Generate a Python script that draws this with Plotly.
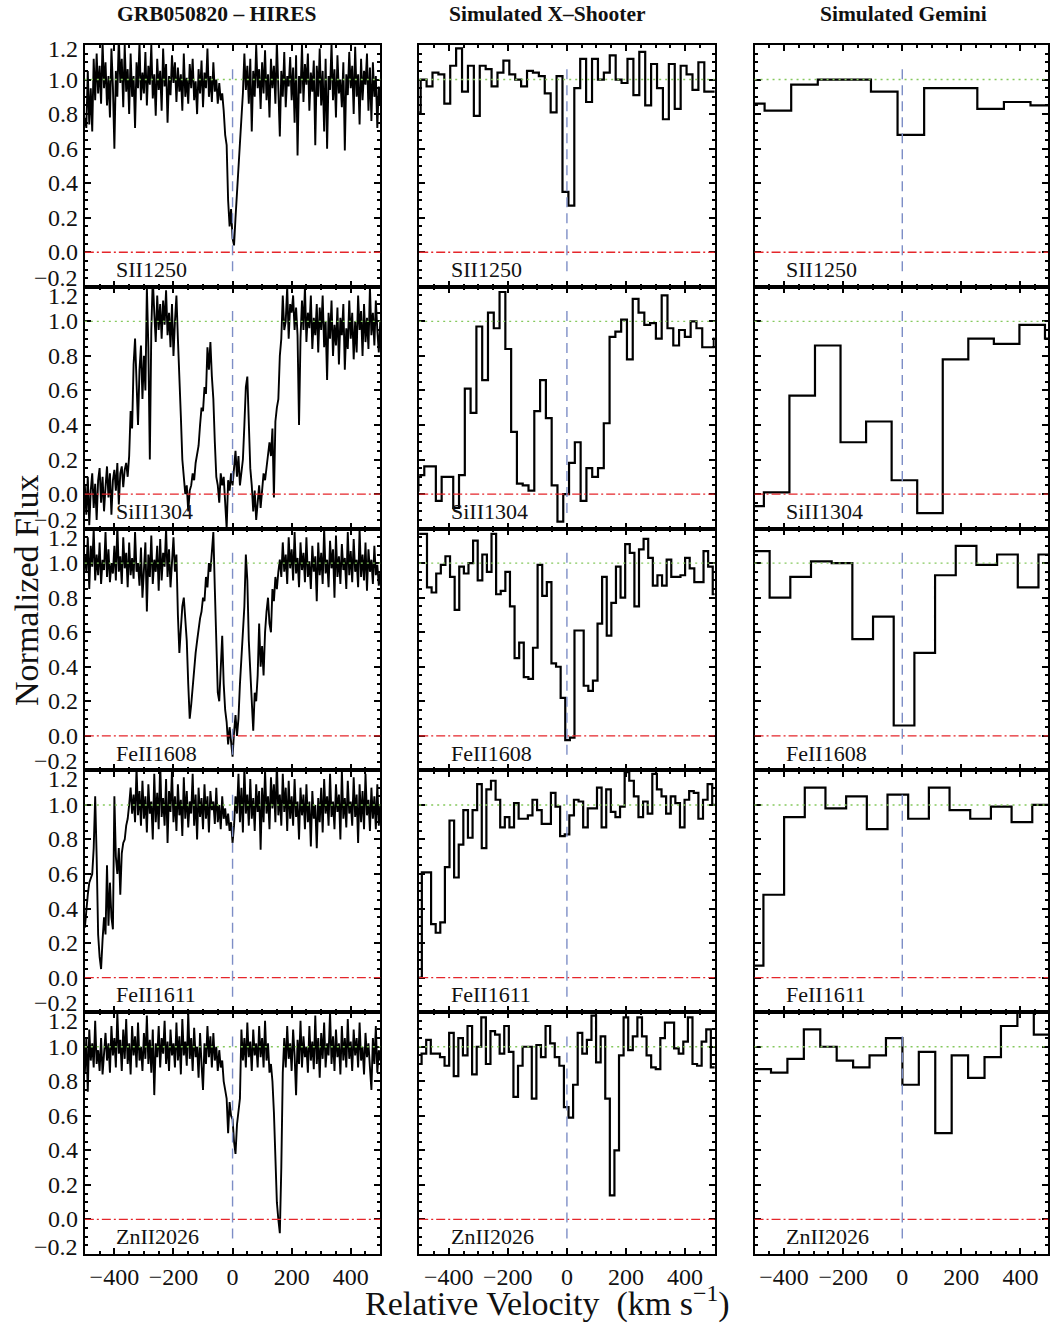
import numpy as np
import plotly.graph_objects as go

FONT = "Liberation Serif"
COLUMN_TITLES = ["GRB050820 \u2013 HIRES", "Simulated X\u2013Shooter", "Simulated Gemini"]
IONS = ["SII1250", "SiII1304", "FeII1608", "FeII1611", "ZnII2026"]
Y_TICKS = [-0.2, 0.0, 0.2, 0.4, 0.6, 0.8, 1.0, 1.2]
X_LABEL = "Relative Velocity\u00a0\u00a0(km s<sup>\u22121</sup>)"
Y_LABEL = "Normalized Flux"

# ---------------- HIRES (5 km/s sampling, starting at -500 km/s) ----------------
HIRES_V0 = -500.0
HIRES_DV = 5.0
HIRES_SII1250 = [
    0.78, 0.72, 1.05, 0.74, 0.95, 0.70, 1.12, 0.88, 1.15, 0.92, 1.08, 0.86, 1.22, 0.95, 1.10, 0.85, 1.02, 0.78, 1.18, 0.96,
    0.60, 1.05, 0.90, 1.25, 0.98, 1.12, 0.84, 1.20, 0.93, 1.06, 0.80, 1.15, 0.90, 1.02, 0.72, 1.10, 0.95, 1.22, 0.88, 1.04,
    0.92, 1.16, 0.85, 1.08, 0.97, 1.20, 0.89, 1.03, 0.79, 1.12, 0.94, 1.05, 0.82, 1.18, 0.96, 1.09, 0.75, 1.02, 0.91, 1.14,
    0.98, 1.10, 0.87, 1.07, 0.93, 1.03, 0.82, 1.15, 0.90, 1.01, 0.86, 1.09, 0.95, 1.12, 0.88, 0.99, 0.80, 1.06, 0.92, 1.11,
    0.84, 1.04, 0.95, 1.18, 0.90, 1.02, 0.87, 1.10, 0.93, 1.00, 0.86, 0.98, 0.88, 0.92, 0.82, 0.68, 0.62, 0.30, 0.15, 0.25,
    0.08, 0.04, 0.20, 0.35, 0.50, 0.66, 0.80, 0.92, 1.15, 0.94, 1.08, 0.86, 1.12, 0.70, 1.05, 0.90, 1.20, 0.95, 1.06, 0.83,
    1.10, 0.92, 1.17, 0.88, 1.03, 0.78, 1.12, 0.95, 1.08, 0.86, 1.22, 0.92, 0.67, 1.05, 0.90, 1.16, 0.84, 1.02, 0.96, 1.13,
    0.88, 1.07, 0.75, 1.14, 0.56, 1.02, 0.92, 1.20, 0.87, 1.09, 0.97, 1.15, 0.82, 1.04, 0.93, 1.11, 0.62, 1.08, 0.90, 1.18,
    0.85, 1.05, 0.70, 1.12, 0.60, 1.02, 0.94, 1.21, 0.88, 1.06, 0.78, 1.14, 0.92, 1.00, 0.84, 1.10, 0.59, 1.03, 0.91, 1.16,
    0.95, 1.08, 0.80, 1.19, 0.90, 1.03, 0.74, 1.12, 0.88, 1.05, 0.97, 1.15, 0.82, 1.07, 0.76, 1.10, 0.90, 1.02, 0.72, 0.96,
    0.85,
]
HIRES_SiII1304 = [
    0.05, -0.12, 0.10, -0.18, 0.02, 0.12, -0.08, 0.06, -0.15, 0.08, 0.15, -0.05, 0.10, -0.10, 0.04, 0.16, -0.02, 0.12, -0.12, 0.08,
    0.14, 0.02, 0.18, -0.06, 0.12, 0.16, 0.04, 0.14, 0.18, 0.10, 0.22, 0.48, 0.38, 0.75, 0.90, 0.62, 0.40, 0.72, 0.86, 0.55,
    0.80, 0.60, 1.20, 0.85, 0.20, 0.95, 1.25, 1.05, 0.88, 1.15, 0.95, 1.10, 0.90, 1.12, 0.98, 1.18, 0.92, 1.05, 0.85, 1.10,
    0.80, 1.00, 1.15, 0.90, 0.60, 0.45, 0.20, 0.08, 0.00, 0.05, -0.10, 0.02, 0.05, 0.12, 0.08, 0.18, 0.22, 0.28, 0.40, 0.50,
    0.48, 0.62, 0.58, 0.85, 0.72, 0.88, 0.68, 0.55, 0.30, 0.10, 0.05, -0.05, 0.12, 0.05, 0.10, -0.02, -0.20, 0.08, 0.02, 0.12,
    0.05, 0.15, 0.25, 0.10, 0.22, 0.05, 0.12, 0.20, 0.40, 0.62, 0.68, 0.45, 0.15, 0.05, -0.10, 0.02, -0.15, -0.05, 0.05, -0.08,
    0.05, 0.12, 0.08, 0.15, 0.25, 0.30, 0.22, 0.38, -0.02, 0.42, 0.50, 0.55, 0.80, 0.90, 1.15, 0.95, 1.00, 1.20, 0.90, 1.10,
    1.05, 1.15, 0.95, 1.08, 0.92, 0.40, 0.90, 1.12, 0.95, 1.20, 0.88, 1.05, 0.96, 1.15, 0.84, 1.02, 0.92, 1.10, 0.82, 1.08,
    0.95, 1.15, 0.85, 1.00, 0.66, 1.05, 0.90, 1.12, 0.80, 0.98, 0.86, 1.08, 0.75, 1.02, 0.92, 1.10, 0.72, 0.96, 0.84, 1.12,
    0.90, 1.05, 0.78, 1.00, 0.82, 1.15, 0.95, 1.06, 0.80, 1.10, 0.88, 1.02, 0.84, 1.20, 0.92, 1.05, 0.86, 1.12, 0.95, 0.82,
    1.00,
]
HIRES_FeII1608 = [
    1.05, 0.95, 1.15, 0.85, 1.10, 0.98, 1.20, 0.90, 1.05, 0.93, 1.12, 0.88, 1.02, 0.96, 1.18, 0.92, 1.08, 0.89, 1.00, 0.94,
    1.10, 0.90, 1.22, 0.95, 1.04, 0.88, 1.15, 0.97, 1.06, 0.86, 1.12, 0.93, 1.03, 0.91, 1.18, 0.95, 1.00, 0.87, 1.09, 0.80,
    0.96, 1.12, 0.72, 1.05, 0.92, 1.16, 0.88, 1.02, 0.95, 1.10, 0.84, 1.14, 0.90, 1.06, 0.98, 1.20, 0.92, 1.08, 0.86, 1.04,
    1.15, 0.95, 1.05, 0.70, 0.48, 0.62, 0.75, 0.80, 0.68, 0.55, 0.30, 0.10, 0.18, 0.28, 0.40, 0.48, 0.55, 0.62, 0.68, 0.72,
    0.80, 0.78, 0.92, 0.86, 1.00, 0.95, 1.10, 1.18, 0.85, 0.50, 0.25, 0.20, 0.45, 0.58, 0.30, 0.15, 0.08, -0.05, 0.05, -0.02,
    -0.12, 0.02, 0.12, 0.00, 0.10, 0.30, 0.45, 0.60, 0.75, 1.05, 0.90, 0.55, 0.35, 0.15, 0.03, 0.25, 0.20, 0.35, 0.65, 0.40,
    0.52, 0.35, 0.60, 0.72, 0.80, 0.65, 0.60, 0.85, 0.78, 0.92, 0.85, 0.95, 1.02, 0.92, 1.12, 0.95, 1.05, 0.88, 1.15, 0.97,
    1.08, 0.90, 1.18, 0.94, 1.03, 0.86, 1.12, 0.96, 1.06, 0.89, 1.15, 0.92, 1.01, 0.85, 1.10, 0.95, 1.04, 0.78, 1.12, 0.93,
    1.06, 0.88, 1.20, 0.94, 1.02, 0.86, 1.13, 0.97, 1.08, 0.80, 1.16, 0.92, 1.04, 0.88, 1.11, 0.96, 1.03, 0.85, 1.18, 0.93,
    1.07, 0.89, 1.14, 0.95, 1.02, 0.86, 1.20, 0.92, 1.05, 0.90, 1.12, 0.84, 1.08, 0.95, 1.02, 0.88, 1.10, 0.93, 0.99, 0.87,
    0.95,
]
HIRES_FeII1611 = [
    0.29, 0.40, 0.48, 0.55, 0.58, 0.60, 0.75, 1.05, 0.70, 0.25, 0.12, 0.05, 0.22, 0.35, 0.25, 0.65, 0.30, 0.55, 0.35, 0.28,
    1.05, 0.70, 0.60, 0.75, 0.48, 0.72, 0.78, 0.80, 0.88, 0.92, 1.00, 1.10, 0.95, 1.06, 0.90, 1.22, 0.94, 1.08, 0.88, 1.14,
    0.92, 1.05, 0.84, 1.12, 0.95, 1.02, 0.80, 1.18, 0.90, 1.07, 0.86, 1.25, 0.93, 1.04, 0.88, 1.15, 0.78, 1.08, 0.96, 1.20,
    0.90, 1.05, 0.85, 1.12, 0.94, 1.03, 0.82, 1.16, 0.92, 1.08, 0.87, 1.02, 0.95, 1.18, 0.88, 1.06, 0.80, 1.10, 0.93, 1.04,
    0.86, 1.12, 0.92, 1.05, 0.84, 1.08, 0.97, 1.02, 0.89, 1.10, 0.90, 1.00, 0.86, 1.05, 0.92, 0.98, 0.88, 0.95, 0.85, 0.90,
    0.78, 0.88, 1.05, 0.95, 1.18, 0.90, 1.10, 0.84, 1.22, 0.95, 1.06, 0.88, 1.15, 0.92, 1.04, 0.85, 1.12, 0.96, 1.08, 0.74,
    1.10, 0.90, 1.20, 0.95, 1.05, 0.86, 1.16, 0.98, 1.12, 0.90, 1.25, 0.94, 1.06, 0.88, 1.18, 0.96, 1.10, 0.85, 1.14, 0.92,
    1.05, 0.88, 1.15, 0.93, 1.02, 0.80, 1.10, 0.94, 1.06, 0.86, 1.12, 0.90, 1.02, 0.76, 1.08, 0.92, 1.00, 0.75, 1.04, 0.90,
    1.10, 0.84, 1.15, 0.95, 1.05, 0.88, 1.18, 0.93, 1.02, 0.86, 1.12, 0.96, 1.06, 0.80, 1.20, 0.92, 1.04, 0.87, 1.14, 0.95,
    1.02, 0.88, 1.16, 0.93, 1.06, 0.78, 1.12, 0.90, 1.08, 0.86, 1.18, 0.94, 1.03, 0.85, 1.10, 0.92, 1.05, 0.86, 1.12, 0.88,
    1.00,
]
HIRES_ZnII2026 = [
    0.85, 1.05, 0.74, 1.10, 0.92, 1.02, 0.88, 1.15, 0.90, 0.98, 0.86, 1.05, 0.84, 0.96, 1.08, 0.92, 1.02, 0.85, 1.12, 0.95,
    1.05, 0.88, 1.20, 0.96, 1.04, 0.86, 1.10, 0.93, 1.16, 0.90, 1.02, 0.84, 1.12, 0.95, 1.06, 0.88, 1.14, 0.92, 1.00, 0.86,
    1.08, 0.93, 1.18, 0.90, 1.04, 0.85, 1.10, 0.72, 1.02, 0.94, 1.12, 0.88, 1.05, 0.96, 1.15, 0.90, 1.03, 0.86, 1.10, 0.95,
    1.02, 0.88, 1.14, 0.92, 1.06, 0.84, 1.16, 0.95, 1.03, 0.89, 1.20, 0.93, 1.05, 0.86, 1.11, 0.94, 1.00, 0.82, 1.08, 0.90,
    0.75, 1.02, 0.90, 1.12, 0.94, 1.06, 0.88, 1.08, 0.92, 1.00, 0.86, 0.98, 0.88, 0.92, 0.80, 0.75, 0.70, 0.50, 0.68, 0.60,
    0.58, 0.45, 0.38, 0.55, 0.62, 0.70, 1.10, 0.92, 1.05, 0.88, 1.14, 0.94, 1.03, 0.86, 1.10, 0.95, 1.02, 0.88, 1.12, 0.94,
    1.05, 0.88, 1.15, 0.92, 1.02, 0.85, 0.90, 0.80, 0.62, 0.35, 0.10, 0.00, -0.08, 0.30, 0.85, 1.05, 0.88, 1.12, 0.93, 1.02,
    0.86, 1.10, 0.95, 0.72, 1.04, 0.90, 1.15, 0.88, 1.06, 0.94, 1.00, 0.85, 1.12, 0.92, 1.03, 0.87, 1.18, 0.90, 1.05, 0.82,
    1.08, 0.93, 1.14, 0.88, 1.02, 0.95, 1.20, 0.90, 1.06, 0.86, 1.10, 0.94, 1.02, 0.84, 1.12, 0.92, 1.05, 0.88, 1.16, 0.93,
    1.03, 0.86, 1.10, 0.95, 1.05, 0.88, 1.14, 0.92, 1.00, 0.84, 1.08, 0.94, 1.02, 0.88, 0.75, 1.05, 0.90, 1.12, 0.85, 0.98,
    0.92,
]

# ---------------- Simulated X-Shooter (binned; first bin edge and bin width in km/s) ----------------
XSH_START = [-515.0, -522.0, -504.8, -506.6, -507.4]
XSH_STEP = [20.0, 19.6, 15.6, 15.6, 15.54]
XSH_SII1250 = [
    0.81, 1.0, 0.96, 1.04, 1.03, 0.86, 1.08, 1.18, 0.93, 1.08, 0.79, 1.08, 1.06, 0.96, 1.04, 1.11, 1.03, 1.0, 0.96, 1.05,
    1.04, 1.02, 0.92, 0.81, 1.02, 0.35, 0.27, 0.95, 1.12, 0.87, 1.12, 1.0, 1.04, 1.14, 1.0, 0.98, 1.12, 0.91, 1.16, 0.85,
    1.09, 0.95, 0.77, 1.09, 0.83, 1.08, 1.03, 0.94, 1.1, 0.93, 0.93,
]
XSH_SiII1304 = [
    0.02, 0.11, 0.16, 0.16, -0.04, 0.10, 0.10, -0.08, 0.11, 0.61, 0.47, 0.97, 0.66, 1.05, 0.96, 1.17, 0.84, 0.36, 0.06, 0.05,
    0.02, 0.48, 0.66, 0.44, 0.05, -0.16, 0.0, 0.18, 0.3, -0.04, 0.15, 0.1, 0.15, 0.41, 0.91, 0.94, 1.01, 0.78, 1.13, 1.05,
    0.98, 0.99, 0.9, 1.15, 0.96, 0.86, 0.95, 0.91, 1.0, 0.96, 0.85, 0.85, 0.9,
]
XSH_FeII1608 = [
    1.17, 1.17, 0.86, 0.83, 0.94, 0.99, 1.04, 0.92, 0.73, 0.98, 0.94, 1.0, 1.13, 0.9, 1.05, 0.95, 1.17, 0.82, 0.84, 0.95,
    0.75, 0.45, 0.54, 0.34, 0.33, 0.51, 0.99, 0.81, 0.89, 0.42, 0.40, 0.22, -0.025, -0.01, 0.61, 0.61, 0.29, 0.26, 0.32, 0.65,
    0.92, 0.58, 0.77, 0.98, 0.80, 1.11, 1.06, 0.75, 1.08, 1.14, 1.03, 0.87, 0.93, 0.87, 1.02, 0.92, 0.92, 0.93, 1.03, 0.97,
    0.89, 0.89, 1.07, 0.98, 0.82,
]
XSH_FeII1611 = [
    0.0, 0.61, 0.61, 0.31, 0.26, 0.32, 0.64, 0.91, 0.58, 0.77, 0.97, 0.81, 0.97, 1.12, 0.75, 1.09, 1.14, 1.03, 0.87, 0.93,
    0.87, 1.01, 0.92, 0.92, 0.94, 1.03, 0.97, 0.89, 0.89, 1.07, 0.99, 0.82, 0.83, 0.94, 1.03, 1.02, 0.87, 0.98, 0.98, 1.10,
    0.87, 1.09, 0.96, 0.93, 0.99, 1.19, 1.14, 1.05, 0.93, 1.02, 0.95, 1.18, 1.09, 1.05, 0.95, 1.05, 1.01, 0.87, 1.03, 1.08,
    1.07, 0.92, 1.03, 1.12, 1.0,
]
XSH_ZnII2026 = [
    0.90, 0.96, 1.04, 0.96, 0.96, 0.94, 0.89, 1.08, 0.83, 1.05, 0.95, 1.12, 0.84, 1.0, 1.17, 0.90, 1.09, 1.07, 0.96, 1.12,
    0.97, 0.71, 0.89, 1.0, 1.0, 0.70, 1.01, 0.94, 1.12, 1.02, 0.94, 0.89, 0.65, 0.59, 0.78, 1.08, 0.96, 1.04, 1.18, 0.91,
    1.06, 0.70, 0.14, 0.40, 0.95, 1.17, 0.98, 1.06, 1.17, 1.06, 0.95, 0.88, 0.87, 1.05, 1.14, 1.14, 0.99, 0.96, 1.03, 1.17,
    0.90, 0.89, 1.03, 1.10, 0.88,
]

# ---------------- Simulated Gemini (binned) ----------------
GEM_START = [-556.0, -555.0, -519.0, -540.0, -500.0]
GEM_STEP = [90.0, 86.5, 70.0, 70.0, 55.6]
GEM_SII1250 = [0.86, 0.82, 0.97, 1.0, 1.0, 0.93, 0.68, 0.95, 0.95, 0.83, 0.87, 0.85]
GEM_SiII1304 = [-0.07, 0.01, 0.57, 0.86, 0.30, 0.42, 0.08, -0.11, 0.78, 0.90, 0.87, 0.98, 0.90]
GEM_FeII1608 = [1.07, 0.80, 0.92, 1.01, 1.0, 0.56, 0.69, 0.06, 0.48, 0.93, 1.10, 0.99, 1.05, 0.86, 1.05]
GEM_FeII1611 = [0.07, 0.48, 0.93, 1.10, 0.98, 1.05, 0.86, 1.06, 0.92, 1.10, 0.97, 0.92, 0.99, 0.90, 1.0]
GEM_ZnII2026 = [0.87, 0.85, 0.93, 1.10, 1.0, 0.92, 0.88, 0.95, 1.05, 0.78, 0.97, 0.50, 0.95, 0.82, 0.94, 1.12, 1.25, 1.07]

HIRES = [HIRES_SII1250, HIRES_SiII1304, HIRES_FeII1608, HIRES_FeII1611, HIRES_ZnII2026]
XSH = [XSH_SII1250, XSH_SiII1304, XSH_FeII1608, XSH_FeII1611, XSH_ZnII2026]
GEM = [GEM_SII1250, GEM_SiII1304, GEM_FeII1608, GEM_FeII1611, GEM_ZnII2026]

# ---------------- layout geometry (pixels in a 1050 x 1325 page) ----------------
W, H = 1050, 1325
COL_PX = [(85, 381), (420, 716), (756, 1050)]
PX_PER_KMS = 296.0 / 1000.0
ROW_TOP, ROW_H = 45.0, 241.8
X_RANGES = [[-500, 500], [-500, 500], [-500, -500 + (1050 - 756) / PX_PER_KMS]]

fig = go.Figure()
layout = dict(
    width=W, height=H, autosize=False,
    margin=dict(l=0, r=0, t=0, b=0, pad=0),
    paper_bgcolor="white", plot_bgcolor="white",
    showlegend=False,
    font=dict(family=FONT, color="#111111"),
)
shapes, annotations = [], []


def steps(start, step, vals):
    edges = start + step * np.arange(len(vals) + 1)
    return edges, list(vals) + [vals[-1]]


for r in range(5):
    top = ROW_TOP + ROW_H * r
    bot = top + ROW_H
    ydom = [1 - bot / H, 1 - top / H]
    for c in range(3):
        n = r * 3 + c + 1
        xa = "xaxis" if n == 1 else f"xaxis{n}"
        ya = "yaxis" if n == 1 else f"yaxis{n}"
        xr = "x" if n == 1 else f"x{n}"
        yr = "y" if n == 1 else f"y{n}"
        layout[xa] = dict(
            domain=[COL_PX[c][0] / W, COL_PX[c][1] / W], range=X_RANGES[c], anchor=yr,
            showline=True, linecolor="black", linewidth=2.2, mirror="allticks",
            ticks="inside", ticklen=6, tickwidth=2, tickcolor="black",
            tickmode="linear", tick0=0, dtick=200,
            showticklabels=(r == 4), ticklabelstandoff=0,
            tickfont=dict(family=FONT, size=24, color="#111111"),
            showgrid=False, zeroline=False,
            minor=dict(ticks="inside", ticklen=3, tickwidth=1.5, tickcolor="black",
                       tickmode="linear", tick0=0, dtick=50, showgrid=False),
        )
        layout[ya] = dict(
            domain=ydom, range=[-0.2, 1.2], anchor=xr,
            showline=True, linecolor="black", linewidth=2.2, mirror="allticks",
            ticks="inside", ticklen=6, tickwidth=2, tickcolor="black",
            tickmode="linear", tick0=0, dtick=0.2,
            showticklabels=False, showgrid=False, zeroline=False,
            minor=dict(ticks="inside", ticklen=3, tickwidth=1.5, tickcolor="black",
                       tickmode="linear", tick0=0, dtick=0.05, showgrid=False),
        )

        if c == 0:
            vals = HIRES[r]
            xs = HIRES_V0 + HIRES_DV * np.arange(len(vals))
            fig.add_trace(go.Scatter(x=xs, y=vals, mode="lines", xaxis=xr, yaxis=yr,
                                     line=dict(color="black", width=1.9), hoverinfo="skip"))
        elif c == 1:
            xs, ys = steps(XSH_START[r], XSH_STEP[r], XSH[r])
            fig.add_trace(go.Scatter(x=xs, y=ys, mode="lines", line_shape="hv", xaxis=xr, yaxis=yr,
                                     line=dict(color="black", width=2.2), hoverinfo="skip"))
        else:
            xs, ys = steps(GEM_START[r], GEM_STEP[r], GEM[r])
            fig.add_trace(go.Scatter(x=xs, y=ys, mode="lines", line_shape="hv", xaxis=xr, yaxis=yr,
                                     line=dict(color="black", width=2.2), hoverinfo="skip"))

        # reference lines: continuum, zero level, line centre
        shapes.append(dict(type="line", layer="above", xref=f"{xr} domain", yref=yr,
                           x0=0, x1=1, y0=1.0, y1=1.0,
                           line=dict(color="#86c95e", width=1.4, dash="2px,4px")))
        shapes.append(dict(type="line", layer="above", xref=f"{xr} domain", yref=yr,
                           x0=0, x1=1, y0=0.0, y1=0.0,
                           line=dict(color="#e5262b", width=1.3, dash="9px,3px,2px,3px")))
        shapes.append(dict(type="line", layer="above", xref=xr, yref=yr,
                           x0=0, x1=0, y0=-0.11, y1=1.08,
                           line=dict(color="#7d8ec6", width=1.4, dash="10px,6px")))

        annotations.append(dict(x=-400, y=-0.1, xref=xr, yref=yr, text=IONS[r],
                                showarrow=False, xanchor="left", yanchor="middle",
                                font=dict(family=FONT, size=22, color="#111111")))

        if c == 0:
            for tv in Y_TICKS:
                if tv == 1.2:
                    shift = -4 if r == 0 else -9
                elif tv == -0.2:
                    shift = 7 if r == 4 else 9
                else:
                    shift = 0
                annotations.append(dict(x=80 / W, y=tv, xref="paper", yref=yr,
                                        text=f"{tv:.1f}".replace("-", "\u2212"),
                                        showarrow=False, xanchor="right", yanchor="middle", yshift=shift,
                                        font=dict(family=FONT, size=24, color="#111111")))

TITLE_X_PX = [217, 549, 905]
for c in range(3):
    annotations.append(dict(x=TITLE_X_PX[c] / W, y=1 - 14 / H, xref="paper", yref="paper",
                            text=f"<b>{COLUMN_TITLES[c]}</b>", showarrow=False,
                            xanchor="center", yanchor="middle",
                            font=dict(family=FONT, size=21.5, color="#111111")))

annotations.append(dict(x=26 / W, y=1 - 590 / H, xref="paper", yref="paper", text=Y_LABEL,
                        textangle=-90, showarrow=False, xanchor="center", yanchor="middle",
                        font=dict(family=FONT, size=34, color="#111111")))
annotations.append(dict(x=549 / W, y=1 - 1301 / H, xref="paper", yref="paper", text=X_LABEL,
                        showarrow=False, xanchor="center", yanchor="middle",
                        font=dict(family=FONT, size=34, color="#111111")))

layout["shapes"] = shapes
layout["annotations"] = annotations
fig.update_layout(**layout)
fig.write_html("out.html")
